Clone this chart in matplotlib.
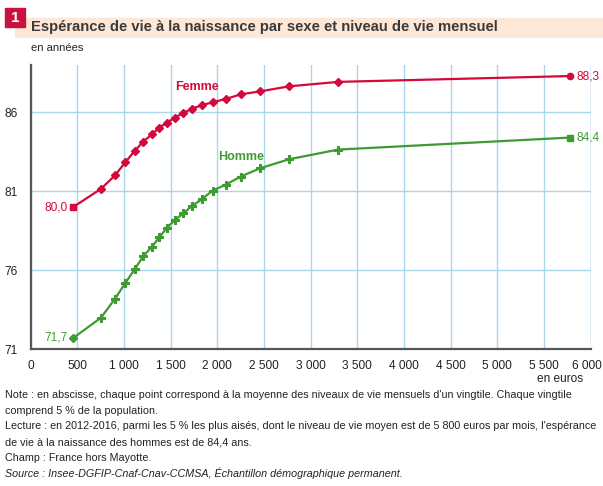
import matplotlib
matplotlib.use("Agg")
import matplotlib.pyplot as plt
import matplotlib.transforms as mtransforms
from matplotlib.patches import Rectangle

plt.rcParams['font.family'] = ['Liberation Sans', 'DejaVu Sans']

# niveau de vie mensuel moyen par vingtile (euros)
revenu = [457, 754, 904, 1015, 1119, 1208, 1300, 1379, 1461, 1547,
          1636, 1733, 1836, 1951, 2093, 2251, 2461, 2772, 3297, 5779]
femmes = [80.0, 81.15, 82.0, 82.84, 83.58, 84.15, 84.61, 85.03, 85.35, 85.67,
          85.96, 86.24, 86.45, 86.64, 86.85, 87.14, 87.33, 87.65, 87.93, 88.3]
hommes = [71.7, 72.98, 74.18, 75.18, 76.09, 76.89, 77.48, 78.08, 78.69, 79.18,
          79.6, 80.08, 80.5, 81.04, 81.42, 81.93, 82.46, 83.03, 83.64, 84.4]
x_ticks = list(range(0, 6001, 500))
x_labels = ['0', '500', '1 000', '1 500', '2 000', '2 500', '3 000', '3 500',
            '4 000', '4 500', '5 000', '5 500', '6 000']
y_ticks = [71, 76, 81, 86]

rouge = '#d5083c'
vert = '#3e9a31'
grille = '#acd6ee'

fig = plt.figure(figsize=(6.03, 4.86), dpi=100)
ax = fig.add_axes([30.6 / 603, 137 / 486, 560 / 603, 284 / 486])

ax.set_xlim(0, 6000)
ax.set_ylim(71, 89)
ax.set_xticks(x_ticks)
ax.set_xticklabels(x_labels)
ax.set_yticks(y_ticks)
ax.tick_params(length=0, labelsize=8.6, colors='#222222', pad=8)
ax.tick_params(axis='y', pad=9)
ax.grid(True, color=grille, linewidth=1)
ax.set_axisbelow(True)
for s in ['top', 'right']:
    ax.spines[s].set_visible(False)
for s in ['left', 'bottom']:
    ax.spines[s].set_color('#555555')
    ax.spines[s].set_linewidth(1.6)
ax.axvline(6000, color=grille, linewidth=1, zorder=0)

# le dernier libellé touche le bord droit
dernier = ax.get_xticklabels()[-1]
dernier.set_transform(dernier.get_transform() +
                      mtransforms.ScaledTranslation(-4 / 100, 0, fig.dpi_scale_trans))

# femmes
ax.plot(revenu, femmes, color=rouge, linewidth=1.6, zorder=3)
ax.plot(revenu[1:-1], femmes[1:-1], 'D', color=rouge, markersize=3.8, zorder=4)
ax.plot(revenu[:1], femmes[:1], 's', color=rouge, markersize=4, zorder=4)
ax.plot(revenu[-1:], femmes[-1:], 'o', color=rouge, markersize=4.5, zorder=4)
# hommes
ax.plot(revenu, hommes, color=vert, linewidth=1.6, zorder=3)
ax.plot(revenu[1:-1], hommes[1:-1], 'P', color=vert, markersize=5.5,
        markeredgewidth=0.8, zorder=4)
ax.plot(revenu[:1], hommes[:1], 'D', color=vert, markersize=4.5, zorder=4)
ax.plot(revenu[-1:], hommes[-1:], 's', color=vert, markersize=4.5, zorder=4)

ax.annotate('80,0', (revenu[0], femmes[0]), xytext=(-4, 0), textcoords='offset points',
            ha='right', va='center', color=rouge, fontsize=8.6)
ax.annotate('88,3', (revenu[-1], femmes[-1]), xytext=(5, 0), textcoords='offset points',
            ha='left', va='center', color=rouge, fontsize=8.6)
ax.annotate('71,7', (revenu[0], hommes[0]), xytext=(-4, 0), textcoords='offset points',
            ha='right', va='center', color=vert, fontsize=8.6)
ax.annotate('84,4', (revenu[-1], hommes[-1]), xytext=(5, 0), textcoords='offset points',
            ha='left', va='center', color=vert, fontsize=8.6)
ax.text(1777, 87.6, 'Femme', color=rouge, fontsize=9, fontweight='bold', ha='center', va='center')
ax.text(2254, 83.2, 'Homme', color=vert, fontsize=9, fontweight='bold', ha='center', va='center')

# titre
fig.patches.append(Rectangle((15 / 603, 1 - 37 / 486), 588 / 603, 19 / 486,
                             transform=fig.transFigure, color='#fde7d7', zorder=0))
fig.patches.append(Rectangle((5 / 603, 1 - 27 / 486), 20 / 603, 19 / 486,
                             transform=fig.transFigure, color='#c8123f', zorder=1))
fig.text(15 / 603, 1 - 17.5 / 486, '1', color='white', fontsize=11, fontweight='bold',
         ha='center', va='center')
fig.text(31 / 603, 1 - 27 / 486, 'Espérance de vie à la naissance par sexe et niveau de vie mensuel',
         color='#3a3a3a', fontsize=10.6, fontweight='bold', ha='left', va='center')
fig.text(31 / 603, 1 - 48 / 486, 'en années', fontsize=8, color='#222222', ha='left', va='center')
fig.text(560 / 603, 1 - 379 / 486, 'en euros', fontsize=8.6, color='#222222', ha='center', va='center')

notes = [
    ("Note : en abscisse, chaque point correspond à la moyenne des niveaux de vie mensuels d'un vingtile. Chaque vingtile", 'normal'),
    ("comprend 5 % de la population.", 'normal'),
    ("Lecture : en 2012-2016, parmi les 5 % les plus aisés, dont le niveau de vie moyen est de 5 800 euros par mois, l'espérance", 'normal'),
    ("de vie à la naissance des hommes est de 84,4 ans.", 'normal'),
    ("Champ : France hors Mayotte.", 'normal'),
    ("Source : Insee-DGFIP-Cnaf-Cnav-CCMSA, Échantillon démographique permanent.", 'italic'),
]
for i, (t, st) in enumerate(notes):
    fig.text(5 / 603, 1 - (395 + i * 15.7) / 486, t, fontsize=7.75, style=st,
             color='#222222', ha='left', va='center')

fig.savefig('out.png', dpi=100)
